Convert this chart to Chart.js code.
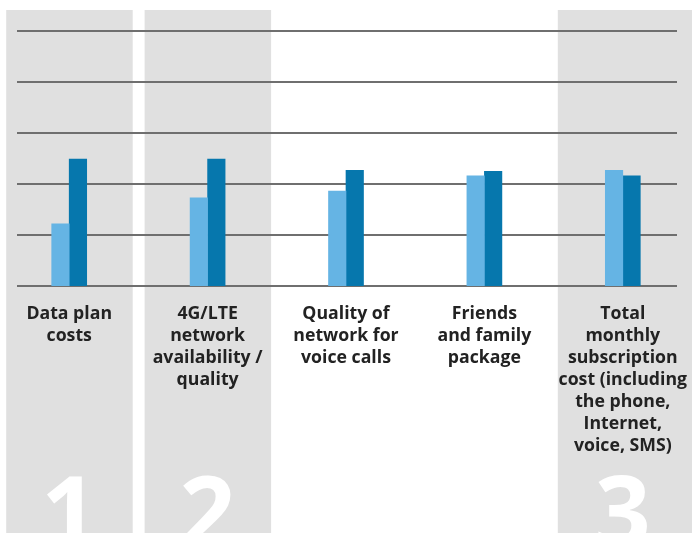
<!DOCTYPE html>
<html lang="en">
<head>
  <meta charset="UTF-8">
  <title>Purchase drivers</title>
  <script src="https://cdn.jsdelivr.net/npm/chart.js@4.4.1"></script>
  <style>
    html,body{margin:0;padding:0;background:#fff;}
    .chart-wrap{position:relative;width:692px;height:533px;}
  </style>
</head>
<body>
<div class="chart-wrap"><canvas id="barChart"></canvas></div>

<script>
// categories (multi-line labels)
const categories = [
  ['Data plan', 'costs'],
  ['4G/LTE', 'network', 'availability /', 'quality'],
  ['Quality of', 'network for', 'voice calls'],
  ['Friends', 'and family', 'package'],
  ['Total', 'monthly', 'subscription', 'cost (including', 'the phone,', 'Internet,', 'voice, SMS)']
];
// series values (% scale 0-50)
const seriesLight = [12.2, 17.3, 18.6, 21.6, 22.7];
const seriesDark  = [24.9, 24.9, 22.7, 22.5, 21.6];
// y ticks
const yTicks = [0, 10, 20, 30, 40, 50];
// highlighted columns: category index -> big number
const bandIndex  = [0, 1, 4];
const bandNumber = ['1', '2', '3'];

const bandsPlugin = {
  id: 'bands',
  beforeDraw(chart) {
    const ctx = chart.ctx, x = chart.scales.x;
    ctx.save();
    bandIndex.forEach((i, k) => {
      const c = x.getPixelForValue(i);
      const last = i === categories.length - 1;
      const left = last ? c - 65 : c - 63;
      const right = last ? chart.width : c + 63.5;
      ctx.fillStyle = '#e0e0e0';
      ctx.fillRect(left, 10, right - left, chart.height - 10);
      ctx.fillStyle = '#ffffff';
      ctx.font = 'bold 98px "Open Sans"';
      ctx.textAlign = 'center';
      ctx.textBaseline = 'alphabetic';
      ctx.fillText(bandNumber[k], c, chart.height + 14);
    });
    ctx.restore();
  },
  beforeDatasetsDraw(chart) {
    const ctx = chart.ctx, y = chart.scales.y;
    ctx.save();
    ctx.strokeStyle = '#6f6f6f';
    ctx.lineWidth = 2;
    yTicks.forEach(v => {
      const py = Math.round(y.getPixelForValue(v));
      ctx.beginPath();
      ctx.moveTo(17, py);
      ctx.lineTo(677, py);
      ctx.stroke();
    });
    ctx.restore();
  }
};

new Chart(document.getElementById('barChart'), {
  type: 'bar',
  data: {
    labels: categories,
    datasets: [
      {label: 'Light', data: seriesLight, backgroundColor: '#65b4e4', barThickness: 17.5},
      {label: 'Dark', data: seriesDark, backgroundColor: '#0677ad', barThickness: 17.5}
    ]
  },
  options: {
    responsive: true,
    maintainAspectRatio: false,
    animation: false,
    layout: {padding: {top: 31, left: 0, right: -3, bottom: 0}},
    plugins: {legend: {display: false}, tooltip: {enabled: false}},
    scales: {
      x: {
        grid: {display: false, drawTicks: false},
        border: {display: false},
        afterFit(scale) {
          scale.height = 247;
          scale.paddingLeft = 0;
          scale.paddingRight = 0;
        },
        ticks: {
          color: '#222222',
          padding: 17,
          maxRotation: 0,
          autoSkip: false,
          font: {family: '"Open Sans"', size: 17.7, weight: 700, lineHeight: '22px'}
        }
      },
      y: {
        display: false,
        min: 0,
        max: 50,
        ticks: {stepSize: 10}
      }
    }
  },
  plugins: [bandsPlugin]
});
</script>
</body>
</html>
